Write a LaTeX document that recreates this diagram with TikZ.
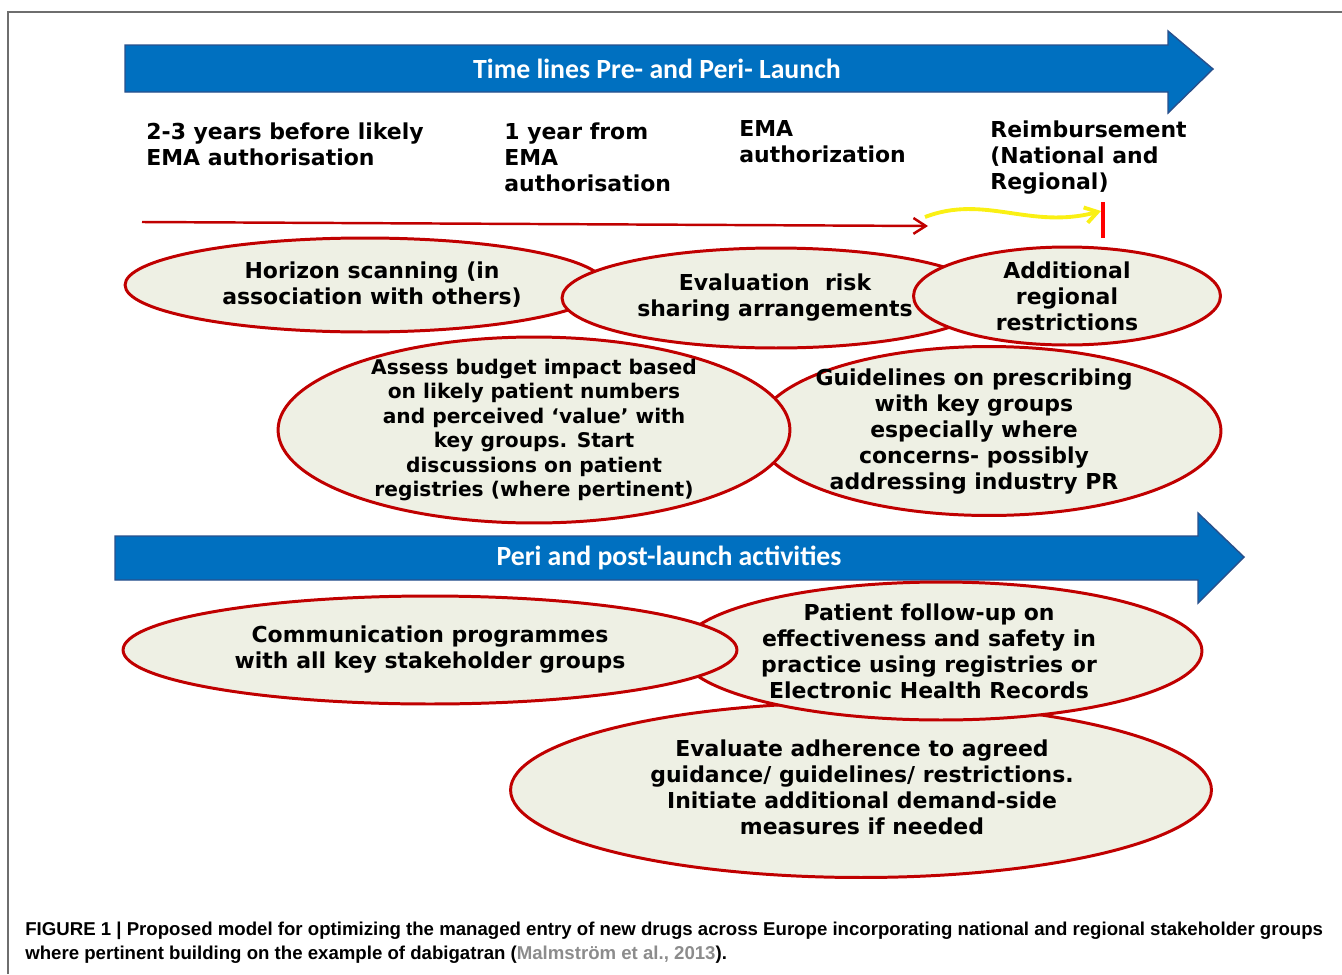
\documentclass[tikz,border=0pt]{standalone}
\usepackage{fontspec}
\setmainfont{DejaVu Sans}
\newfontfamily\titlefont{Carlito}
\newfontfamily\capfont{Liberation Sans}
\usetikzlibrary{arrows.meta, shapes.geometric}

\definecolor{bandblue}{RGB}{0,112,192}
\definecolor{bandedge}{RGB}{40,80,140}
\definecolor{blobfill}{RGB}{238,240,228}
\definecolor{blobedge}{RGB}{192,0,0}
\definecolor{citegray}{RGB}{140,140,140}
\definecolor{framegray}{RGB}{110,110,110}
\definecolor{waveyellow}{RGB}{250,240,20}

\begin{document}
\begin{tikzpicture}[x=0.02cm, y=-0.02cm,
  blob/.style={ellipse, draw=blobedge, fill=blobfill, line width=1.7pt, inner sep=0pt},
  txt/.style={align=center, inner sep=0pt, font=\bfseries\fontsize{12.5}{14.8}\selectfont},
  lbl/.style={align=left, anchor=north west, inner sep=0pt, font=\bfseries\fontsize{12.5}{14.8}\selectfont},
  band/.style={fill=bandblue, draw=bandedge, line width=0.8pt},
  bandtxt/.style={text=white, inner sep=0pt, font=\titlefont\bfseries\fontsize{15.8}{18}\selectfont},
  captxt/.style={anchor=base west, inner sep=0pt, font=\capfont\bfseries\fontsize{10.6}{13}\selectfont}]
\useasboundingbox (0,0) rectangle (1342,974);
\draw[framegray, line width=0.9pt] (8,974) -- (8,12) -- (1342,12);

% time line banners
\draw[band] (125,45) -- (1168,45) -- (1168,31) -- (1213,69) -- (1168,113) -- (1168,92) -- (125,92) -- cycle;
\node (pretitle) [bandtxt] at (657,69) {Time lines Pre- and Peri- Launch};
\draw[band] (115,536) -- (1198,536) -- (1198,513) -- (1244,557) -- (1198,603) -- (1198,580) -- (115,580) -- cycle;
\node (posttitle) [bandtxt] at (669,558) {Peri and post-launch activities};

% milestones
\node (twoyears) [lbl] at (146,122) {2-3 years before likely\\EMA authorisation};
\node (oneyear) [lbl] at (504,122) {1 year from\\EMA\\authorisation};
\node (ema) [lbl] at (739,120) {EMA\\authorization};
\node (reimb) [lbl] at (990,120) {Reimbursement\\(National and\\Regional)};

\coordinate (runstart) at (142,222);
\coordinate (runend) at (928,226);
\draw[blobedge, line width=1.4pt, -{Straight Barb[length=7pt,width=9pt]}] (runstart) -- (runend);
\coordinate (wavestart) at (925,217);
\coordinate (waveend) at (1101,211);
\draw[waveyellow, line width=2.2pt, -{Straight Barb[length=7pt,width=9pt]}] (wavestart) .. controls (985,194) and (1030,230) .. (waveend);
\coordinate (ticktop) at (1103,202);
\coordinate (tickbot) at (1103,238);
\draw[red, line width=1.8pt] (ticktop) -- (tickbot);

% pre-launch ellipses
\node (scan) [blob, minimum width=9.6cm, minimum height=1.88cm] at (365,285) {};
\node (risk) [blob, minimum width=8.56cm, minimum height=2cm] at (776,298) {};
\node (restr) [blob, minimum width=6.14cm, minimum height=1.96cm] at (1067,296) {};
\node (guide) [blob, minimum width=9.28cm, minimum height=3.38cm] at (989,431) {};
\node (budget) [blob, minimum width=10.24cm, minimum height=3.72cm] at (534,430) {};

% post-launch ellipses
\node (adhere) [blob, minimum width=14.02cm, minimum height=3.5cm] at (861,790) {};
\node (follow) [blob, minimum width=10.44cm, minimum height=2.76cm] at (941,651) {};
\node (comm) [blob, minimum width=12.28cm, minimum height=2.16cm] at (430,650) {};

\node (scantxt) [txt] at (372,285) {Horizon scanning (in\\association with others)};
\node (risktxt) [txt] at (775,298) {Evaluation\ \ risk\\sharing arrangements};
\node (restrtxt) [txt] at (1067,296) {Additional\\regional\\restrictions};
\node (budgettxt) [txt, font=\bfseries\fontsize{11.5}{13.9}\selectfont] at (534,430) {Assess budget impact based\\on likely patient numbers\\and perceived `value' with\\key groups. Start\\discussions on patient\\registries (where pertinent)};
\node (guidetxt) [txt] at (974,432) {Guidelines on prescribing\\with key groups\\especially where\\concerns- possibly\\addressing industry PR};
\node (commtxt) [txt] at (430,650) {Communication programmes\\with all key stakeholder groups};
\node (followtxt) [txt] at (929,651) {Patient follow-up on\\effectiveness and safety in\\practice using registries or\\Electronic Health Records};
\node (adheretxt) [txt] at (862,787) {Evaluate adherence to agreed\\guidance/ guidelines/ restrictions.\\Initiate additional demand-side\\measures if needed};

% caption
\node (cap1) [captxt] at (25,935) {FIGURE 1 | Proposed model for optimizing the managed entry of new drugs across Europe incorporating national and regional stakeholder groups};
\node (cap2) [captxt] at (25,959) {where pertinent building on the example of dabigatran (\textcolor{citegray}{Malmström et al., 2013}).};
\end{tikzpicture}
\end{document}
